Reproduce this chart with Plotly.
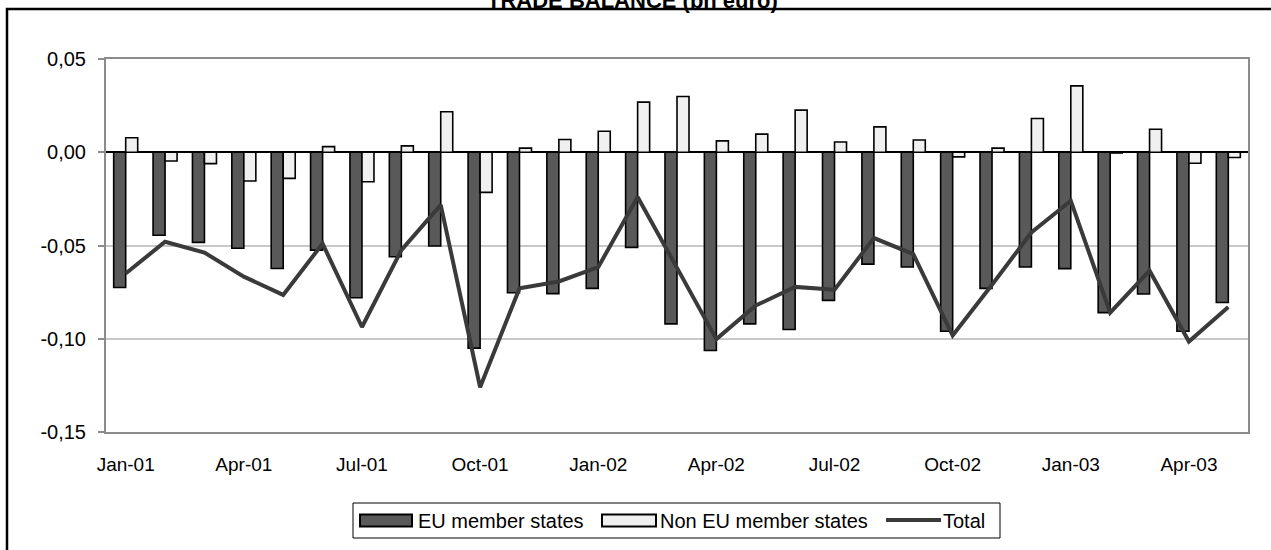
import plotly.graph_objects as go

months = ["Jan-01", "Feb-01", "Mar-01", "Apr-01", "May-01", "Jun-01", "Jul-01", "Aug-01",
          "Sep-01", "Oct-01", "Nov-01", "Dec-01", "Jan-02", "Feb-02", "Mar-02", "Apr-02",
          "May-02", "Jun-02", "Jul-02", "Aug-02", "Sep-02", "Oct-02", "Nov-02", "Dec-02",
          "Jan-03", "Feb-03", "Mar-03", "Apr-03", "May-03"]

eu_member = [-0.0725, -0.0445, -0.0483, -0.0515, -0.0623, -0.0525, -0.078, -0.056,
             -0.0503, -0.105, -0.0753, -0.0758, -0.073, -0.051, -0.092, -0.1063,
             -0.092, -0.095, -0.0794, -0.060, -0.0615, -0.096, -0.073, -0.0615,
             -0.0624, -0.086, -0.076, -0.096, -0.0806]

non_eu_member = [0.0078, -0.0047, -0.0061, -0.0154, -0.0140, 0.0030, -0.0158, 0.0034,
                 0.0217, -0.0215, 0.0022, 0.0068, 0.0113, 0.0269, 0.0299, 0.0061,
                 0.0097, 0.0226, 0.0055, 0.0136, 0.0066, -0.0025, 0.0022, 0.0181,
                 0.0356, -0.0004, 0.0123, -0.0059, -0.0028]

total = [-0.065, -0.048, -0.0538, -0.0667, -0.0765, -0.049, -0.0937, -0.0525,
         -0.0282, -0.126, -0.073, -0.0693, -0.0616, -0.024, -0.062, -0.1002,
         -0.0822, -0.0722, -0.0737, -0.046, -0.0546, -0.0983, -0.071, -0.043,
         -0.026, -0.086, -0.0635, -0.1015, -0.083]

y_ticks = [0.05, 0.0, -0.05, -0.10, -0.15]
y_tick_text = ["0,05", "0,00", "-0,05", "-0,10", "-0,15"]
x_tick_labels = months[::3]

title_text = "TRADE BALANCE (bn euro)"
legend_names = ["EU member states", "Non EU member states", "Total"]

EU_COLOR = "#595959"
NON_EU_COLOR = "#f0f0f0"
LINE_COLOR = "#3a3a3a"
FONT = "Liberation Sans, Arial, sans-serif"

# plot-area geometry in pixels (for converting layout decorations)
L, R, T, B = 106, 1248, 59, 432
W, H = 1271, 550


def px(x):
    return (x - L) / (R - L)


def py(y):
    return (B - y) / (B - T)


fig = go.Figure()
fig.add_trace(go.Bar(x=months, y=eu_member, name=legend_names[0],
                     marker=dict(color=EU_COLOR, line=dict(color="black", width=1.6)),
                     showlegend=False))
fig.add_trace(go.Bar(x=months, y=non_eu_member, name=legend_names[1],
                     marker=dict(color=NON_EU_COLOR, line=dict(color="black", width=1.6)),
                     showlegend=False))
fig.add_trace(go.Scatter(x=months, y=total, name=legend_names[2], mode="lines",
                         line=dict(color=LINE_COLOR, width=4), showlegend=False))

shapes = []
# outer chart border (extends beyond the visible page on right/bottom)
shapes.append(dict(type="rect", xref="paper", yref="paper",
                   x0=px(7), x1=px(1300), y0=py(580), y1=py(9),
                   line=dict(color="black", width=2.5), fillcolor="rgba(0,0,0,0)", layer="above"))
# legend box
shapes.append(dict(type="rect", xref="paper", yref="paper",
                   x0=px(353), x1=px(1000), y0=py(538), y1=py(503),
                   line=dict(color="black", width=1), fillcolor="white", layer="above"))
# legend swatches
shapes.append(dict(type="rect", xref="paper", yref="paper",
                   x0=px(360), x1=px(412), y0=py(526.5), y1=py(514.5),
                   line=dict(color="black", width=2), fillcolor=EU_COLOR, layer="above"))
shapes.append(dict(type="rect", xref="paper", yref="paper",
                   x0=px(602), x1=px(656), y0=py(526.5), y1=py(514.5),
                   line=dict(color="black", width=2), fillcolor=NON_EU_COLOR, layer="above"))
shapes.append(dict(type="line", xref="paper", yref="paper",
                   x0=px(886), x1=px(941), y0=py(520), y1=py(520),
                   line=dict(color=LINE_COLOR, width=4), layer="above"))

annotations = [
    dict(text="<b>" + title_text + "</b>", xref="paper", yref="paper",
         x=px(632), y=py(15), xanchor="center", yanchor="bottom", showarrow=False,
         font=dict(size=22, color="black", family=FONT)),
    dict(text=legend_names[0], xref="paper", yref="paper", x=px(416), y=py(520.5),
         xanchor="left", yanchor="middle", showarrow=False,
         font=dict(size=20, color="black", family=FONT)),
    dict(text=legend_names[1], xref="paper", yref="paper", x=px(658), y=py(520.5),
         xanchor="left", yanchor="middle", showarrow=False,
         font=dict(size=20, color="black", family=FONT)),
    dict(text=legend_names[2], xref="paper", yref="paper", x=px(941), y=py(520.5),
         xanchor="left", yanchor="middle", showarrow=False,
         font=dict(size=20, color="black", family=FONT)),
]

fig.update_layout(
    width=W, height=H,
    margin=dict(l=L, r=W - R, t=T, b=H - B, pad=0),
    paper_bgcolor="white", plot_bgcolor="white",
    barmode="group", bargap=0.39, bargroupgap=0,
    font=dict(family=FONT, size=19, color="black"),
    shapes=shapes, annotations=annotations,
    showlegend=False,
)
fig.update_xaxes(
    type="category", range=[-0.5, len(months) - 0.5],
    tickmode="array", tickvals=x_tick_labels, ticktext=x_tick_labels,
    ticks="", ticklabelstandoff=14,
    showline=True, linecolor="#8c8c8c", linewidth=2, mirror=True,
    showgrid=False, zeroline=False,
    tickfont=dict(size=19, color="black"),
)
fig.update_yaxes(
    range=[-0.15, 0.05], tickmode="array", tickvals=y_ticks, ticktext=y_tick_text,
    ticks="outside", ticklen=6, tickcolor="#8c8c8c", tickwidth=2, ticklabelstandoff=8,
    showline=True, linecolor="#8c8c8c", linewidth=2, mirror=True,
    showgrid=True, gridcolor="#c8c8c8", gridwidth=2,
    zeroline=True, zerolinecolor="black", zerolinewidth=1.5,
    tickfont=dict(size=20, color="black"),
)

fig.write_html(
    "out.html",
    config={"displayModeBar": False},
    post_script="document.body.style.margin='0';document.body.style.overflow='hidden';",
)
